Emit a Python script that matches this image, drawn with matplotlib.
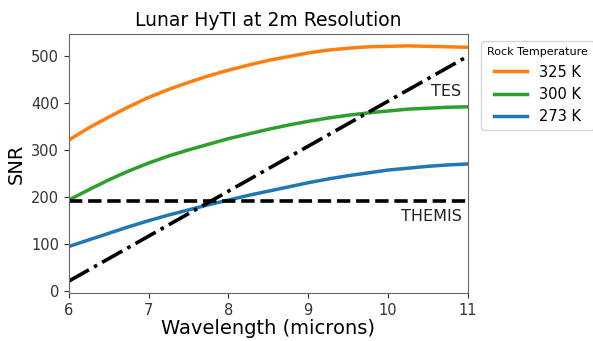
import matplotlib
matplotlib.use("Agg")
import matplotlib.pyplot as plt

# SNR every 0.25 micron
wavelength = [6.0, 6.25, 6.5, 6.75, 7.0, 7.25, 7.5, 7.75, 8.0, 8.25, 8.5,
              8.75, 9.0, 9.25, 9.5, 9.75, 10.0, 10.25, 10.5, 10.75, 11.0]
snr_325 = [321, 347, 370, 392, 412, 429, 444, 458, 470, 481, 491,
           499, 507, 513, 517, 520, 521, 522, 521, 520, 519]
snr_300 = [193, 215, 236, 255, 272, 287, 300, 312, 324, 334, 344,
           353, 361, 368, 374, 379, 383, 387, 389, 391, 392]
snr_273 = [94, 108, 122, 136, 149, 161, 172, 183, 193, 203, 212,
           221, 230, 238, 245, 251, 257, 261, 265, 268, 270]

tes_x = [6, 11]
tes_y = [20, 500]
themis_x = [6, 11]
themis_y = [190, 190]

fig = plt.figure(figsize=(5.93, 3.41), dpi=100)
ax = fig.add_axes([0.116, 0.141, 0.673, 0.759])

ax.plot(wavelength, snr_325, color="tab:orange", linewidth=2.5, label="325 K")
ax.plot(wavelength, snr_300, color="tab:green", linewidth=2.5, label="300 K")
ax.plot(wavelength, snr_273, color="tab:blue", linewidth=2.5, label="273 K")
ax.plot(tes_x, tes_y, color="black", linestyle="-.", linewidth=2.6)
ax.plot(themis_x, themis_y, color="black", linestyle="--", linewidth=2.6)

ax.text(10.92, 425, "TES", ha="right", va="center", fontsize=11.5, color="#222222")
ax.text(10.92, 157, "THEMIS", ha="right", va="center", fontsize=11.5, color="#222222")

ax.set_xlim(6, 11)
ax.set_xticks([6, 7, 8, 9, 10, 11])
ax.set_yticks([0, 100, 200, 300, 400, 500])
ax.set_xlabel("Wavelength (microns)", fontsize=14, labelpad=1)
ax.set_ylabel("SNR", fontsize=14)
ax.set_title("Lunar HyTI at 2m Resolution", fontsize=13.5)
ax.tick_params(labelsize=10.5, colors="#333333")
for s in ax.spines.values():
    s.set_color("#666666")

leg = ax.legend(title="Rock Temperature", loc="upper left", bbox_to_anchor=(1.015, 1.0),
                fontsize=10.5, title_fontsize=8, handlelength=2.3)

fig.savefig("out.png", dpi=100)
